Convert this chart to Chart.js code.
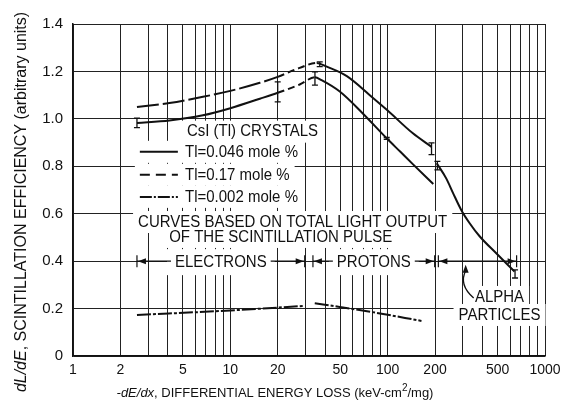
<!DOCTYPE html>
<html>
<head>
<meta charset="utf-8">
<script src="https://cdn.jsdelivr.net/npm/chart.js@4.4.1/dist/chart.umd.min.js"></script>
<style>
  html, body { margin: 0; padding: 0; background: #fff; }
  #wrap { width: 571px; height: 404px; }
</style>
</head>
<body>
<div id="wrap"><canvas id="chart" width="571" height="404"></canvas></div>
<script>
// Axis ticks
const xGridValues = [1, 2, 3, 4, 5, 6, 7, 8, 9, 10, 20, 30, 40, 50, 60, 70, 80, 90, 100,
    200, 300, 400, 500, 600, 700, 800, 900, 1000];
const xTickLabels = [1, 2, 5, 10, 20, 50, 100, 200, 500, 1000];
const yTickValues = [0, 0.2, 0.4, 0.6, 0.8, 1.0, 1.2, 1.4];

// Tl = 0.046 mole % (lower curve, electrons + protons)
const lowX = [2.55, 4.1, 6.7, 10, 15.4, 20, 27.6, 34.5, 38, 49.6, 69, 98.6, 120, 145, 195];
const lowY = [0.983, 0.993, 1.015, 1.045, 1.085, 1.11, 1.145, 1.175, 1.163, 1.115, 1.025, 0.918, 0.862, 0.808, 0.725];

// Tl = 0.17 mole % (upper curve)
const highX = [2.55, 4.1, 6.7, 10, 15.4, 20, 27.6, 35.4, 41, 55, 77, 100, 144, 190];
const highY = [1.05, 1.067, 1.093, 1.118, 1.152, 1.177, 1.215, 1.236, 1.22, 1.18, 1.10, 1.035, 0.94, 0.882];

// alpha particle branch
const alphaX = [205, 236, 260, 294, 332, 384, 490, 640];
const alphaY = [0.813, 0.748, 0.688, 0.615, 0.56, 0.505, 0.433, 0.356];

// Tl = 0.002 mole % (two pieces)
const traceElX = [2.55, 10, 29];
const traceElY = [0.173, 0.192, 0.211];
const traceProX = [34.4, 49.6, 80, 164];
const traceProY = [0.222, 0.207, 0.185, 0.148];

// error bars
const errX = [2.55, 20, 37, 34.5, 98.6, 190, 207, 645];
const errY = [0.983, 1.114, 1.23, 1.17, 0.918, 0.874, 0.803, 0.346];
const errHalf = [0.02, 0.042, 0.01, 0.028, 0.004, 0.025, 0.018, 0.017];

// particle ranges at y = 0.4
const rangeFrom = [2.55, 33.5, 210];
const rangeTo = [29.7, 199, 660];
const rangeLabels = ['ELECTRONS', 'PROTONS', ''];

const INK = '#111';
const FONT = '"Liberation Sans", Arial, sans-serif';

const toPoints = (xs, ys) => xs.map((x, i) => ({ x: x, y: ys[i] }));

const lowDash = ctx => (ctx.p0.parsed.x >= 20 && ctx.p1.parsed.x <= 35) ? [7, 4] : undefined;
const highDash = ctx => {
    if (ctx.p1.parsed.x <= 20) return [22, 4];
    if (ctx.p1.parsed.x <= 36) return [7, 4];
    return undefined;
};

// text boxes inside the plot (placed in data units)
const notes = [
    { text: 'CsI (Tl) CRYSTALS', x: 5.3, y: 0.946, align: 'left' },
    { text: 'Tl=0.046 mole %', x: 5.15, y: 0.861, align: 'left', sample: [] },
    { text: 'Tl=0.17 mole %', x: 5.15, y: 0.764, align: 'left', sample: [10, 6] },
    { text: 'Tl=0.002 mole %', x: 5.15, y: 0.671, align: 'left', sample: [12, 2, 2, 2] },
    { text: 'CURVES BASED ON TOTAL LIGHT OUTPUT', x: 24.9, y: 0.565, align: 'center' },
    { text: 'OF THE SCINTILLATION PULSE', x: 20.9, y: 0.502, align: 'center' },
    { text: 'ALPHA', x: 514, y: 0.249, align: 'center' },
    { text: 'PARTICLES', x: 514, y: 0.173, align: 'center' }
];
const sampleFrom = 2.66, sampleTo = 4.64;

const noteBox = (ctx, n, xs, ys) => {
    const w = ctx.measureText(n.text).width;
    const px = xs.getPixelForValue(n.x), py = ys.getPixelForValue(n.y);
    const left = n.align === 'left' ? px : px - w / 2;
    return { left, top: py - 9, w, h: 18, px, py };
};

// slightly tall lettering, like the stencil text of the original
const tallText = (ctx, text, x, y) => {
    ctx.save();
    ctx.translate(x, y);
    ctx.scale(1, 1.15);
    ctx.fillText(text, 0, 0);
    ctx.restore();
};

const figurePlugin = {
    id: 'figure',
    beforeDatasetsDraw(chart) {
        const ctx = chart.ctx, xs = chart.scales.x, ys = chart.scales.y;
        ctx.save();
        ctx.font = '15px ' + FONT;
        ctx.fillStyle = '#fff';
        notes.forEach(n => {
            const b = noteBox(ctx, n, xs, ys);
            let left = b.left;
            if (n.sample) left = xs.getPixelForValue(sampleFrom);
            ctx.fillRect(left - 5, b.top - 2, b.left + b.w - left + 10, b.h + 4);
        });
        // gaps around the range labels
        rangeLabels.forEach((lab, i) => {
            if (!lab) return;
            const cx = Math.sqrt(rangeFrom[i] * rangeTo[i]);
            const w = ctx.measureText(lab).width;
            const px = xs.getPixelForValue(cx), py = ys.getPixelForValue(0.4);
            ctx.fillRect(px - w / 2 - 8, py - 12, w + 16, 26);
        });
        ctx.restore();
    },
    afterDatasetsDraw(chart) {
        const ctx = chart.ctx, xs = chart.scales.x, ys = chart.scales.y;
        const area = chart.chartArea;
        ctx.save();
        ctx.strokeStyle = INK;
        ctx.fillStyle = INK;

        // notes and legend samples
        ctx.font = '15px ' + FONT;
        ctx.textBaseline = 'middle';
        notes.forEach(n => {
            const b = noteBox(ctx, n, xs, ys);
            ctx.textAlign = 'left';
            tallText(ctx, n.text, b.left, b.py);
            if (n.sample) {
                ctx.lineWidth = 2;
                ctx.setLineDash(n.sample);
                ctx.beginPath();
                ctx.moveTo(xs.getPixelForValue(sampleFrom), b.py);
                ctx.lineTo(xs.getPixelForValue(sampleTo), b.py);
                ctx.stroke();
                ctx.setLineDash([]);
            }
        });

        // error bars
        ctx.lineWidth = 1.3;
        errX.forEach((x, i) => {
            const px = xs.getPixelForValue(x);
            const y0 = ys.getPixelForValue(errY[i] - errHalf[i]);
            const y1 = ys.getPixelForValue(errY[i] + errHalf[i]);
            ctx.beginPath();
            ctx.moveTo(px, y0); ctx.lineTo(px, y1);
            ctx.moveTo(px - 3, y0); ctx.lineTo(px + 3, y0);
            ctx.moveTo(px - 3, y1); ctx.lineTo(px + 3, y1);
            ctx.stroke();
        });

        // particle range brackets
        const ry = ys.getPixelForValue(0.4);
        const arrow = (tip, dir) => {
            ctx.beginPath();
            ctx.moveTo(tip, ry);
            ctx.lineTo(tip + dir * 8, ry - 3);
            ctx.lineTo(tip + dir * 8, ry + 3);
            ctx.closePath();
            ctx.fill();
        };
        ctx.lineWidth = 1.2;
        rangeLabels.forEach((lab, i) => {
            const a = xs.getPixelForValue(rangeFrom[i]);
            const b = xs.getPixelForValue(rangeTo[i]);
            ctx.beginPath();
            ctx.moveTo(a, ry - 6); ctx.lineTo(a, ry + 6);
            ctx.moveTo(b, ry - 6); ctx.lineTo(b, ry + 6);
            ctx.stroke();
            arrow(a + 1, 1);
            arrow(b - 1, -1);
            if (lab) {
                const cx = xs.getPixelForValue(Math.sqrt(rangeFrom[i] * rangeTo[i]));
                const w = ctx.measureText(lab).width;
                ctx.beginPath();
                ctx.moveTo(a, ry); ctx.lineTo(cx - w / 2 - 4, ry);
                ctx.moveTo(cx + w / 2 + 4, ry); ctx.lineTo(b, ry);
                ctx.stroke();
                ctx.textAlign = 'left';
                tallText(ctx, lab, cx - w / 2, ry + 1);
            } else {
                ctx.beginPath();
                ctx.moveTo(a, ry); ctx.lineTo(b, ry);
                ctx.stroke();
            }
        });

        // curved pointer from ALPHA PARTICLES
        const sx = xs.getPixelForValue(352), sy = ys.getPixelForValue(0.245);
        const cx = xs.getPixelForValue(282), cy = ys.getPixelForValue(0.3);
        const ex = xs.getPixelForValue(313), ey = ys.getPixelForValue(0.385);
        ctx.lineWidth = 1.3;
        ctx.beginPath();
        ctx.moveTo(sx, sy);
        ctx.quadraticCurveTo(cx, cy, ex, ey + 6);
        ctx.stroke();
        ctx.beginPath();
        ctx.moveTo(ex, ey);
        ctx.lineTo(ex - 3, ey + 8);
        ctx.lineTo(ex + 3, ey + 8);
        ctx.closePath();
        ctx.fill();

        // axis titles with italic symbols
        const runs = (parts, x, y) => {
            let total = 0;
            parts.forEach(p => { ctx.font = p.font; total += ctx.measureText(p.t).width; });
            let cur = x - total / 2;
            ctx.textAlign = 'left';
            parts.forEach(p => {
                ctx.font = p.font;
                ctx.fillText(p.t, cur, y + (p.dy || 0));
                cur += ctx.measureText(p.t).width;
            });
        };
        ctx.textBaseline = 'middle';
        runs([
            { t: '-dE/dx', font: 'italic 13px ' + FONT },
            { t: ', DIFFERENTIAL ENERGY LOSS (keV-cm', font: '13px ' + FONT },
            { t: '2', font: '10px ' + FONT, dy: -5 },
            { t: '/mg)', font: '13px ' + FONT }
        ], 275, 393);

        ctx.save();
        ctx.translate(22, (area.top + area.bottom) / 2 + 12);
        ctx.rotate(-Math.PI / 2);
        runs([
            { t: 'dL/dE', font: 'italic 16px ' + FONT },
            { t: ', SCINTILLATION EFFICIENCY (arbitrary units)', font: '16px ' + FONT }
        ], 0, 0);
        ctx.restore();

        ctx.restore();
    }
};

const traceData = toPoints(traceElX, traceElY)
    .concat([{ x: 31.5, y: null }])
    .concat(toPoints(traceProX, traceProY));

const curveStyle = {
    borderColor: INK,
    borderWidth: 2,
    pointRadius: 0,
    cubicInterpolationMode: 'monotone'
};

const ctx = document.getElementById('chart').getContext('2d');
const chart = new Chart(ctx, {
    type: 'line',
    data: {
        datasets: [
            Object.assign({
                label: 'Tl=0.046 mole %',
                data: toPoints(lowX, lowY),
                segment: { borderDash: lowDash }
            }, curveStyle),
            Object.assign({
                label: 'Tl=0.17 mole %',
                data: toPoints(highX, highY),
                segment: { borderDash: highDash }
            }, curveStyle),
            Object.assign({
                label: 'Alpha particles',
                data: toPoints(alphaX, alphaY)
            }, curveStyle),
            Object.assign({
                label: 'Tl=0.002 mole %',
                data: traceData,
                borderDash: [14, 2, 3, 2],
                spanGaps: false
            }, curveStyle)
        ]
    },
    options: {
        responsive: false,
        animation: false,
        devicePixelRatio: 1,
        layout: { padding: { top: 24, right: 26, left: 0, bottom: 0 } },
        plugins: {
            legend: { display: false },
            tooltip: { enabled: false }
        },
        scales: {
            x: {
                type: 'logarithmic',
                min: 1,
                max: 1000,
                afterBuildTicks: scale => {
                    scale.ticks = xGridValues.map(v => ({ value: v }));
                },
                afterFit: scale => { scale.height = 48; },
                ticks: {
                    autoSkip: false,
                    maxRotation: 0,
                    color: INK,
                    padding: 6,
                    font: { family: FONT, size: 14 },
                    callback: value => xTickLabels.includes(value) ? String(value) : ''
                },
                grid: { color: '#222', lineWidth: 1, drawTicks: false },
                border: { color: INK, width: 1.5 }
            },
            y: {
                min: 0,
                max: 1.4,
                afterBuildTicks: scale => {
                    scale.ticks = yTickValues.map(v => ({ value: v }));
                },
                afterFit: scale => { scale.width = 73; },
                ticks: {
                    color: INK,
                    padding: 10,
                    font: { family: FONT, size: 15 },
                    callback: value => value === 0 ? '0' : value.toFixed(1)
                },
                grid: { color: '#222', lineWidth: 1, drawTicks: false },
                border: { color: INK, width: 1.5 }
            }
        }
    },
    plugins: [figurePlugin]
});
</script>
</body>
</html>
